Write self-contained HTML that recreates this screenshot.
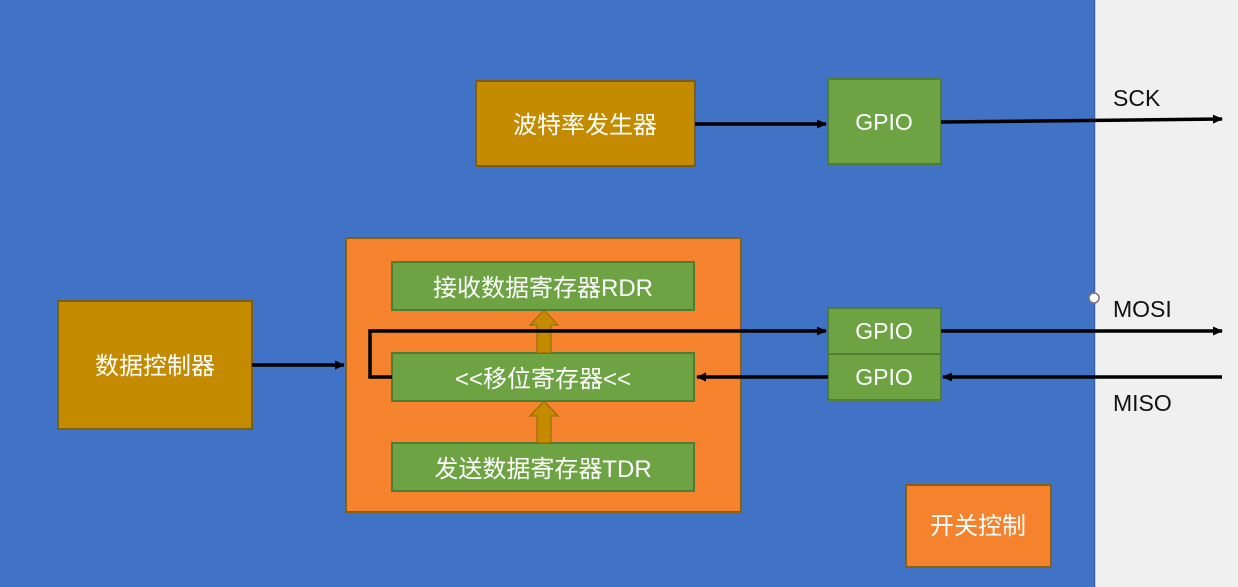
<!DOCTYPE html>
<html><head><meta charset="utf-8"><style>
html,body{margin:0;padding:0;width:1238px;height:587px;overflow:hidden;background:#f0f0f0}
svg{display:block}
text{font-family:"Liberation Sans","Noto Sans CJK SC",sans-serif;}
</style></head><body>
<svg width="1238" height="587" viewBox="0 0 1238 587" xmlns="http://www.w3.org/2000/svg">
<defs>
<marker id="ar" markerWidth="10" markerHeight="10" refX="9" refY="5" orient="auto" markerUnits="userSpaceOnUse">
<path d="M0,0.5 L10,5 L0,9.5 z" fill="#000"/></marker>
</defs>
<rect x="0" y="0" width="1238" height="587" fill="#f0f0f0"/>
<rect x="0" y="0" width="1094" height="587" fill="#4072c6"/>
<line x1="1094.5" y1="0" x2="1094.5" y2="587" stroke="#3a62a8" stroke-width="1.5"/>

<g stroke="#7a6010" stroke-width="2">
<rect x="476" y="81" width="219" height="85" fill="#c48b00"/>
<rect x="58" y="301" width="194" height="128" fill="#c48b00"/>
</g>
<rect x="346" y="238" width="395" height="274" fill="#f5832d" stroke="#8a6010" stroke-width="2"/>
<g stroke="#507d34" stroke-width="2" fill="#6ea344">
<rect x="828" y="79" width="113" height="85"/>
<rect x="392" y="262" width="302" height="48"/>
<rect x="392" y="353" width="302" height="48"/>
<rect x="392" y="443" width="302" height="48"/>
<rect x="828" y="308" width="113" height="46"/>
<rect x="828" y="354" width="113" height="46"/>
</g>
<rect x="906" y="485" width="145" height="82" fill="#f5832d" stroke="#8a6010" stroke-width="2"/>

<!-- gold arrows -->
<g fill="#c48b00" stroke="#8a6a10" stroke-width="1">
<path d="M537,353 V325 H530 L544,310 L558,325 H551 V353 Z"/>
<path d="M537,443 V416 H530 L544,401 L558,416 H551 V443 Z"/>
</g>

<g stroke="#000" stroke-width="3.5" fill="none">
<line x1="695" y1="124" x2="826" y2="124" marker-end="url(#ar)"/>
<line x1="941" y1="122" x2="1222" y2="119" marker-end="url(#ar)"/>
<line x1="252" y1="365" x2="344" y2="365" marker-end="url(#ar)"/>
<polyline points="392,377 370,377 370,331 826,331" marker-end="url(#ar)"/>
<line x1="941" y1="331" x2="1222" y2="331" marker-end="url(#ar)"/>
<line x1="1222" y1="377" x2="943" y2="377" marker-end="url(#ar)"/>
<line x1="828" y1="377" x2="697" y2="377" marker-end="url(#ar)"/>
</g>
<circle cx="1094" cy="298" r="5" fill="#fff" stroke="#777" stroke-width="1.5"/>

<g fill="#fff" font-size="24" text-anchor="middle">
<text x="585" y="133">波特率发生器</text>
<text x="155" y="374">数据控制器</text>
<text x="543" y="296">接收数据寄存器RDR</text>
<text x="543" y="387">&lt;&lt;移位寄存器&lt;&lt;</text>
<text x="543" y="477">发送数据寄存器TDR</text>
<text x="978" y="534">开关控制</text>
</g>
<g fill="#fff" font-size="23" text-anchor="middle">
<text x="884" y="130">GPIO</text>
<text x="884" y="339">GPIO</text>
<text x="884" y="385">GPIO</text>
</g>
<g fill="#111" font-size="23">
<text x="1113" y="106">SCK</text>
<text x="1113" y="317">MOSI</text>
<text x="1113" y="411">MISO</text>
</g>
</svg>
</body></html>
